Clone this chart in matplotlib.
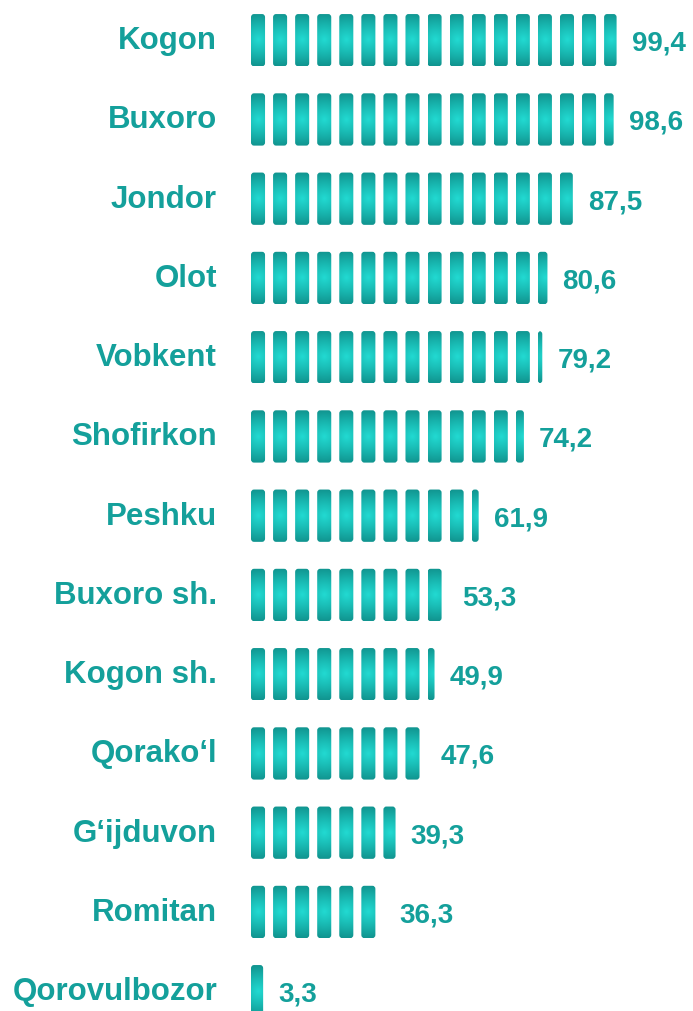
import numpy as np
import matplotlib
matplotlib.use("Agg")
import matplotlib.pyplot as plt
from matplotlib.patches import FancyBboxPatch
from matplotlib.colors import LinearSegmentedColormap

# data
districts = ["Kogon", "Buxoro", "Jondor", "Olot", "Vobkent", "Shofirkon", "Peshku",
             "Buxoro sh.", "Kogon sh.", "Qorako\u2018l", "G\u2018ijduvon", "Romitan", "Qorovulbozor"]
values = [99.4, 98.6, 87.5, 80.6, 79.2, 74.2, 61.9, 53.3, 49.9, 47.6, 39.3, 36.3, 3.3]
labels = ["99,4", "98,6", "87,5", "80,6", "79,2", "74,2", "61,9",
          "53,3", "49,9", "47,6", "39,3", "36,3", "3,3"]

unit = 6.0          # value per icon
icon_w = unit * 14 / 22
bar_h = 0.66
teal = "#14a09b"

plt.rcParams['font.family'] = ['Liberation Sans', 'DejaVu Sans']

fig = plt.figure(figsize=(6.93, 10.12), dpi=100)
ax = fig.add_axes([251 / 693, 0, 434 / 693, 1])
ax.axis("off")

# gradient: dark at top/bottom, bright in the middle
cmap = LinearSegmentedColormap.from_list("tl", ["#119590", "#19bab3", "#22dad2"])
yy, xx = np.mgrid[-1:1:60j, -1:1:20j]
grad = 1 - np.clip(np.sqrt((xx * 0.3) ** 2 + yy ** 2), 0, 1)

for i, v in enumerate(values):
    n = int(np.ceil(v / unit))
    for k in range(n):
        x0 = k * unit
        w = min(icon_w, v - x0)
        if w < 0.5:   # too thin to show
            continue
        y0 = i - bar_h / 2
        patch = FancyBboxPatch((x0, y0), w, bar_h,
                               boxstyle="round,pad=0,rounding_size=0.8",
                               mutation_aspect=0.05,
                               facecolor="none", edgecolor="none")
        ax.add_patch(patch)
        im = ax.imshow(grad, cmap=cmap, vmin=0, vmax=1, aspect="auto",
                       extent=(x0, x0 + icon_w, i + bar_h / 2, y0),
                       interpolation="bilinear")
        im.set_clip_path(patch)

    ax.text(-34 / 3.68, i, districts[i], ha="right", va="center",
            fontsize=22.5, fontweight="bold", color=teal)
    ax.text(v + 15 / 3.68, i + 0.03, labels[i], ha="left", va="center",
            fontsize=20, fontweight="bold", color=teal)

ax.set_xlim(0, 118)
ax.set_ylim(12.25, -0.52)
fig.savefig("out.png", dpi=100)
